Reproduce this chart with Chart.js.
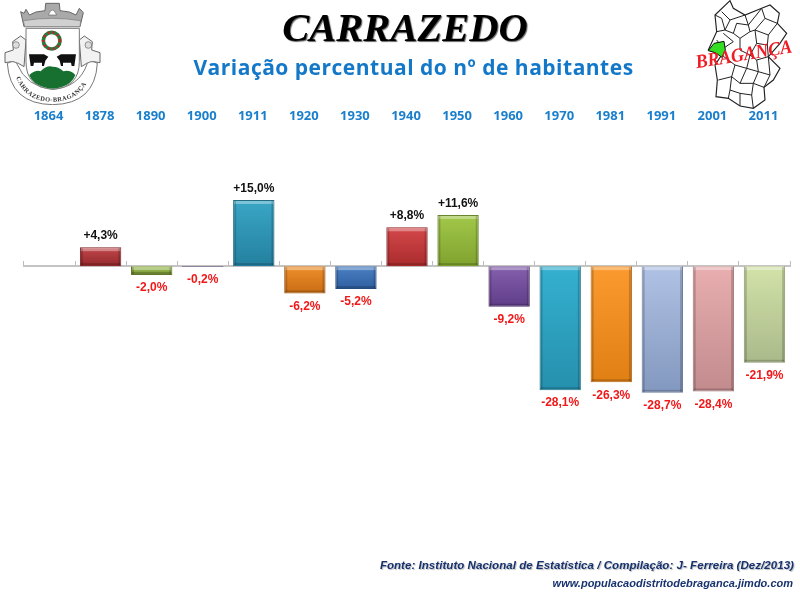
<!DOCTYPE html>
<html>
<head>
<meta charset="utf-8">
<title>Carrazedo</title>
<script src="https://cdn.jsdelivr.net/npm/chart.js@4"></script>
<style>
html, body { margin: 0; padding: 0; background: #fff; }
#wrap { position: relative; width: 800px; height: 600px; overflow: hidden; }
#wrap canvas { position: absolute; left: 0; top: 0; }
#wrap svg { position: absolute; }
.txt { position: absolute; white-space: nowrap; }
#nome { left: 0; width: 810px; top: 4px; text-align: center; font: italic bold 40.5px "Liberation Serif", serif; color: #000; text-shadow: 1px 1px 1px #666; }
#sub { left: 0; width: 827px; top: 53px; text-align: center; font: bold 21px "Open Sans", sans-serif; color: #1378c8; letter-spacing: 0.5px; }
#fonte { right: 6px; top: 559px; font: italic bold 11.5px "Liberation Sans", sans-serif; color: #17326e; letter-spacing: 0.05px; text-shadow: 1px 1px 1px #bbb; }
#site { right: 7px; top: 577px; font: italic bold 11px "Liberation Sans", sans-serif; color: #17326e; }
</style>
</head>
<body>
<div id="wrap">
  <canvas id="chartVar" width="800" height="600"></canvas>

  <!-- brasao -->
  <svg style="left:0;top:0" width="105" height="105" viewBox="0 0 315 315">
    <defs><path id="fita" d="M48 232 Q75 305 158 305 Q240 305 268 232"/></defs>
    <!-- coroa -->
    <path d="M72 80 L62 35 L72 40 L78 28 L88 45 L108 36 L135 32 L137 10 L178 10 L180 32 L208 36 L228 45 L238 25 L250 38 L240 80 Z" fill="#a9a9a9" stroke="#666" stroke-width="3"/>
    <path d="M145 45 Q157 15 170 45 Z" fill="#fff" stroke="#666" stroke-width="2"/>
    <path d="M70 62 Q157 48 242 62 L240 80 L74 80 Z" fill="#d0d0d0" stroke="#777" stroke-width="2"/>
    <!-- nos laterais -->
    <path d="M15 158 L40 150 L38 125 L62 108 L78 120 L72 200 L55 190 L35 185 L15 188 Z" fill="#f2f2f2" stroke="#666" stroke-width="3"/>
    <path d="M300 158 L275 150 L277 125 L253 108 L238 120 L244 200 L260 190 L280 185 L300 188 Z" fill="#f2f2f2" stroke="#666" stroke-width="3"/>
    <circle cx="48" cy="135" r="10" fill="#ddd" stroke="#666" stroke-width="2"/>
    <circle cx="265" cy="135" r="10" fill="#ddd" stroke="#666" stroke-width="2"/>
    <!-- fita -->
    <path d="M22 190 Q40 180 50 190 Q80 262 158 268 Q238 262 262 190 Q275 180 292 190 Q285 312 158 314 Q30 312 22 190 Z" fill="#fff" stroke="#777" stroke-width="3"/>
    <!-- escudo -->
    <path d="M78 85 H238 V185 Q238 262 158 268 Q78 262 78 185 Z" fill="#fff" stroke="#777" stroke-width="3"/>
    <path d="M88 225 Q108 208 122 214 Q140 195 158 200 Q178 200 190 214 Q210 208 226 225 Q212 262 158 266 Q102 262 88 225 Z" fill="#17702f"/>
    <!-- coroa de flores -->
    <circle cx="155" cy="122" r="25" fill="none" stroke="#2a7a3c" stroke-width="11"/>
    <circle cx="155" cy="122" r="25" fill="none" stroke="#d8192a" stroke-width="8" stroke-dasharray="5 10"/>
    <!-- bois -->
    <path d="M87 163 H132 L145 170 L136 182 L132 198 H126 V188 H102 L100 198 H92 Z" fill="#111"/>
    <path d="M228 163 H183 L170 170 L179 182 L183 198 H189 V188 H213 L215 198 H223 Z" fill="#111"/>
    <text font-family="Liberation Serif" font-size="19" font-weight="bold" fill="#333" textLength="262" lengthAdjust="spacing"><textPath href="#fita">CARRAZEDO-BRAGANÇA</textPath></text>
  </svg>

  <!-- mapa do distrito -->
  <svg style="left:690px;top:0" width="110" height="112" viewBox="0 0 330 336">
    <path d="M120 2 L130 25 L165 45 L215 25 L240 15 L268 40 L262 70 L290 100 L270 130 L235 170 L270 205 L250 240 L222 262 L225 300 L190 325 L150 318 L115 295 L78 290 L82 240 L75 195 L95 165 L55 150 L80 95 L75 45 L120 2 Z" fill="#fff" stroke="#222" stroke-width="3.5"/>
    <path d="M75 45 L95 55 L105 90 L80 95 M95 35 L120 60 L105 90 M120 60 L165 45 L175 75 L140 70 L130 100 L105 90 M175 75 L180 95 L150 115 L130 100 M175 75 L215 25 L225 55 L262 70 M225 55 L195 90 L180 95 M195 90 L235 105 L262 70 M235 105 L232 135 L200 130 L195 90 M200 130 L180 165 L150 150 L150 115 M232 135 L235 170 L200 180 L180 165 M100 100 L130 125 L100 145 L80 120 M200 180 L205 215 L170 205 L180 165 M235 170 L240 225 L205 215 M240 225 L222 262 L190 250 L205 215 M170 205 L135 195 L125 230 L85 240 M125 230 L150 250 L170 205 M150 250 L190 250 L185 285 L150 280 L120 270 L125 230 M120 270 L115 295 M150 280 L150 318 M185 285 L190 325 M135 195 L95 165" fill="none" stroke="#222" stroke-width="3"/>
    <path d="M55 152 L72 130 L102 124 L106 150 L96 172 L76 158 Z" fill="#33dd22" stroke="#111" stroke-width="3"/>
    <text transform="translate(20 205) rotate(-9.5)" font-family="Liberation Serif" font-style="italic" font-weight="bold" font-size="58" fill="#ee1c25" textLength="292" lengthAdjust="spacingAndGlyphs">BRAGANÇA</text>
  </svg>

  <div class="txt" id="nome">CARRAZEDO</div>
  <div class="txt" id="sub">Variação percentual do nº de habitantes</div>
  <div class="txt" id="fonte">Fonte: Instituto Nacional de Estatística  / Compilação: J- Ferreira (Dez/2013)</div>
  <div class="txt" id="site">www.populacaodistritodebraganca.jimdo.com</div>
</div>

<script>
const anos = ['1864', '1878', '1890', '1900', '1911', '1920', '1930', '1940', '1950', '1960', '1970', '1981', '1991', '2001', '2011'];
const variacao = [null, 4.3, -2.0, -0.2, 15.0, -6.2, -5.2, 8.8, 11.6, -9.2, -28.1, -26.3, -28.7, -28.4, -21.9];
const corTopo = ['#999999', '#c2474a', '#9dbf52', '#8064a2', '#3aa6c6', '#ef8f2c', '#4a80c4', '#d4484a', '#a2c84a', '#8560ad', '#35b0d0', '#fb9a2e', '#b0c2e4', '#e8aeb0', '#d2e2a8'];
const corBase = ['#999999', '#93292c', '#7a9636', '#5f4585', '#24809f', '#c86c14', '#2f5f9f', '#a92b2d', '#7fa22e', '#603d88', '#2590ad', '#e07f14', '#8398bf', '#c28b8d', '#aab98a'];
const corBorda = ['#999999', '#7c2224', '#5f7529', '#4d3670', '#1c6780', '#a8590e', '#254e85', '#8d2224', '#66842a', '#4d3070', '#1d7891', '#b9680f', '#6b7da0', '#a07375', '#8a9870'];

function rotulo(v) {
    return (v > 0 ? '+' : '') + v.toFixed(1).replace('.', ',') + '%';
}

// gradiente vertical de cada barra
function gradiente(context) {
    const i = context.dataIndex;
    const v = variacao[i];
    const esc = context.chart.scales.y;
    if (v === null || !esc) return corBase[i];
    const g = context.chart.ctx.createLinearGradient(0, esc.getPixelForValue(Math.max(v, 0)), 0, esc.getPixelForValue(Math.min(v, 0)));
    g.addColorStop(0, corTopo[i]);
    g.addColorStop(1, corBase[i]);
    return g;
}

// relevo das barras e etiquetas de valor
const etiquetas = {
    id: 'etiquetas',
    afterDatasetsDraw(chart) {
        const ctx = chart.ctx;
        const barras = chart.getDatasetMeta(0).data;
        ctx.save();
        barras.forEach((b, i) => {
            const v = variacao[i];
            if (v === null) return;
            const topo = Math.min(b.y, b.base);
            const fundo = Math.max(b.y, b.base);
            const esq = b.x - b.width / 2;
            if (fundo - topo > 6) {
                ctx.fillStyle = 'rgba(255,255,255,0.35)';
                ctx.fillRect(esq + 1, topo + 1, b.width - 2, 3);
                ctx.fillStyle = 'rgba(0,0,0,0.18)';
                ctx.fillRect(esq + 1, fundo - 3, b.width - 2, 2);
                ctx.fillRect(esq + 1, topo + 1, 2, fundo - topo - 2);
                ctx.fillRect(esq + b.width - 3, topo + 1, 2, fundo - topo - 2);
            }
            ctx.font = 'bold 12px "Liberation Sans", sans-serif';
            ctx.textAlign = 'center';
            ctx.textBaseline = 'middle';
            ctx.fillStyle = v > 0 ? '#111111' : '#f01818';
            ctx.fillText(rotulo(v), b.x, v > 0 ? topo - 11.5 : fundo + 13);
        });
        ctx.restore();
    }
};

new Chart(document.getElementById('chartVar'), {
    type: 'bar',
    data: {
        labels: anos,
        datasets: [{
            data: variacao,
            backgroundColor: gradiente,
            borderColor: corBorda,
            borderWidth: 1,
            categoryPercentage: 1,
            barPercentage: 0.81
        }]
    },
    options: {
        responsive: false,
        animation: false,
        layout: { padding: { left: 24, right: 10, top: 104, bottom: 69 } },
        plugins: {
            legend: { display: false },
            tooltip: { enabled: false }
        },
        scales: {
            x: {
                position: { y: 0 },
                grid: { display: true, drawOnChartArea: false, offset: true, tickLength: -6, color: '#bdbdbd', tickWidth: 1 },
                border: { display: true, color: '#c4c4c4', width: 2 },
                ticks: { display: false }
            },
            anosTopo: {
                type: 'category',
                position: 'top',
                labels: anos,
                grid: { display: false, drawTicks: false },
                border: { display: false },
                ticks: { color: '#1a7fcc', maxRotation: 0, autoSkip: false, padding: 10, labelOffset: -1, font: { family: '"Open Sans", sans-serif', weight: 'bold', size: 13 } },
                afterFit(scale) { scale.height = 29.7; }
            },
            y: {
                display: false,
                min: -60,
                max: 30
            }
        }
    },
    plugins: [etiquetas]
});
</script>
</body>
</html>
